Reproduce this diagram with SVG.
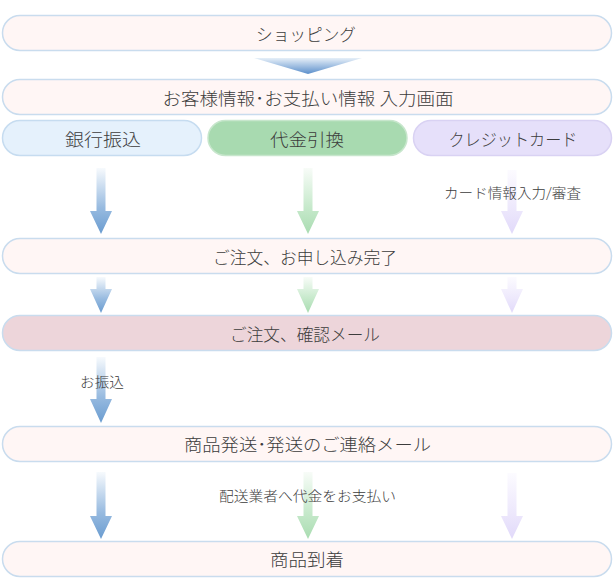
<svg xmlns="http://www.w3.org/2000/svg" width="614" height="578" viewBox="0 0 614 578">
<style>
.box{fill:#fff6f5;stroke:#c9dcee;stroke-width:1.5}
.t{font-family:"Noto Sans CJK JP","Noto Sans",sans-serif;font-size:17px;font-weight:300;fill:#3c3c3c;text-anchor:middle;dominant-baseline:central}
.l{font-family:"Noto Sans CJK JP","Noto Sans",sans-serif;font-size:13.5px;font-weight:300;fill:#3c3c3c;text-anchor:middle;dominant-baseline:central}
</style>
<defs>
<linearGradient id="gB" x1="0" y1="0" x2="0" y2="1"><stop offset="0" stop-color="#f7fafd"/><stop offset="0.6" stop-color="#98bbe0"/><stop offset="1" stop-color="#6a9cd0"/></linearGradient>
<linearGradient id="gG" x1="0" y1="0" x2="0" y2="1"><stop offset="0" stop-color="#f8fcf8"/><stop offset="0.6" stop-color="#c6e9cb"/><stop offset="1" stop-color="#a9dcb1"/></linearGradient>
<linearGradient id="gP" x1="0" y1="0" x2="0" y2="1"><stop offset="0" stop-color="#fcfbff"/><stop offset="0.6" stop-color="#ede8fc"/><stop offset="1" stop-color="#e1d9fa"/></linearGradient>
<linearGradient id="gT" x1="0" y1="0" x2="0" y2="1"><stop offset="0" stop-color="#e6eff8"/><stop offset="1" stop-color="#5b8fcb"/></linearGradient>
</defs>

<g id="connectors">
<polygon points="254,58 362,58 308,74" fill="url(#gT)"/>
<path d="M96.5 168H105.5V211H112L101 234L90 211H96.5Z" fill="url(#gB)"/>
<path d="M303.5 168H312.5V211H319L308 234L297 211H303.5Z" fill="url(#gG)"/>
<path d="M507.5 170H516.5V211H523L512 234L501 211H507.5Z" fill="url(#gP)"/>
<path d="M96.5 277H105.5V289H112L101 313L90 289H96.5Z" fill="url(#gB)"/>
<path d="M303.5 277H312.5V289H319L308 313L297 289H303.5Z" fill="url(#gG)"/>
<path d="M507.5 277H516.5V289H523L512 313L501 289H507.5Z" fill="url(#gP)"/>
<path d="M96.5 357H105.5V399H112L101 423L90 399H96.5Z" fill="url(#gB)"/>
<path d="M96.5 472H105.5V516H112L101 539L90 516H96.5Z" fill="url(#gB)"/>
<path d="M303.5 472H312.5V516H319L308 539L297 516H303.5Z" fill="url(#gG)"/>
<path d="M507.5 473H516.5V516H523L512 539L501 516H507.5Z" fill="url(#gP)"/>
<text class="l" x="512.5" y="192" textLength="137" lengthAdjust="spacingAndGlyphs">カード情報入力/審査</text>
<text class="l" x="102" y="381" textLength="44" lengthAdjust="spacingAndGlyphs">お振込</text>
<text class="l" x="307.5" y="495" textLength="177" lengthAdjust="spacingAndGlyphs">配送業者へ代金をお支払い</text>
</g>

<g id="n-shopping"><rect class="box" x="2.5" y="15.5" width="609" height="35" rx="17.5"/><text class="t" x="306" y="33" textLength="100" lengthAdjust="spacingAndGlyphs">ショッピング</text></g>
<g id="n-input"><rect class="box" x="2.5" y="79.5" width="609" height="35" rx="17.5"/><text class="t" x="308" y="97.5" textLength="291" lengthAdjust="spacingAndGlyphs">お客様情報･お支払い情報 入力画面</text></g>
<g id="n-bank"><rect x="2.5" y="120.5" width="199" height="35" rx="17.5" fill="#e5f1fc" stroke="#c6dcf0" stroke-width="1.5"/><text class="t" x="103" y="138" textLength="76" lengthAdjust="spacingAndGlyphs">銀行振込</text></g>
<g id="n-cod"><rect x="208" y="120.5" width="199" height="35" rx="17.5" fill="#a8dab0" stroke="#c7e6cc" stroke-width="1.5"/><text class="t" x="307" y="138" textLength="74" lengthAdjust="spacingAndGlyphs">代金引換</text></g>
<g id="n-card"><rect x="413.5" y="120.5" width="198" height="35" rx="17.5" fill="#e6e0fa" stroke="#d9d2f3" stroke-width="1.5"/><text class="t" x="513" y="138" textLength="129" lengthAdjust="spacingAndGlyphs">クレジットカード</text></g>
<g id="n-complete"><rect class="box" x="2.5" y="238.5" width="609" height="35" rx="17.5"/><text class="t" x="305" y="256" textLength="184" lengthAdjust="spacingAndGlyphs">ご注文、お申し込み完了</text></g>
<g id="n-confirm"><rect class="box" x="2.5" y="315.5" width="609" height="35" rx="17.5" style="fill:#edd5da"/><text class="t" x="305" y="333" textLength="150" lengthAdjust="spacingAndGlyphs">ご注文、確認メール</text></g>
<g id="n-ship"><rect class="box" x="2.5" y="426.5" width="609" height="35" rx="17.5"/><text class="t" x="307.5" y="443.5" textLength="247" lengthAdjust="spacingAndGlyphs">商品発送･発送のご連絡メール</text></g>
<g id="n-arrive"><rect class="box" x="2.5" y="541.5" width="609" height="35" rx="17.5"/><text class="t" x="307" y="558.5" textLength="74" lengthAdjust="spacingAndGlyphs">商品到着</text></g>
</svg>
